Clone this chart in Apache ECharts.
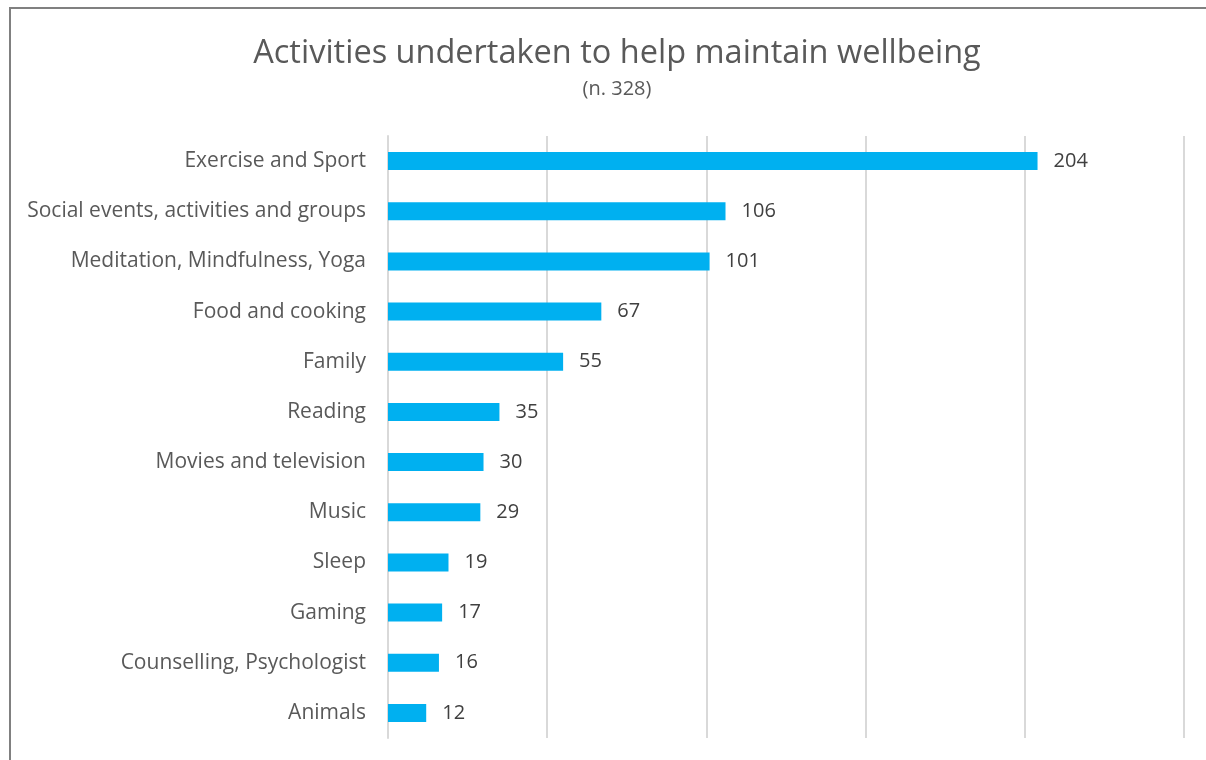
<!DOCTYPE html>
<html>
<head>
<meta charset="utf-8">
<script src="https://cdn.jsdelivr.net/npm/echarts@6/dist/echarts.min.js"></script>
<style>
  html, body { margin: 0; padding: 0; background: #fff; }
  #chart { width: 1206px; height: 760px; }
</style>
</head>
<body>
<div id="chart"></div>
<script>
const categories = [
  "Exercise and Sport",
  "Social events, activities and groups",
  "Meditation, Mindfulness, Yoga",
  "Food and cooking",
  "Family",
  "Reading",
  "Movies and television",
  "Music",
  "Sleep",
  "Gaming",
  "Counselling, Psychologist",
  "Animals",
];
const counts = [204, 106, 101, 67, 55, 35, 30, 29, 19, 17, 16, 12];

const FONT = "'Open Sans', sans-serif";
const chart = echarts.init(document.getElementById("chart"), null, { renderer: "canvas" });

chart.setOption({
  backgroundColor: "#fff",
  animation: false,
  title: {
    text: "Activities undertaken to help maintain wellbeing",
    subtext: "(n. 328)",
    left: 612,
    top: 32,
    textAlign: "center",
    itemGap: 9,
    textStyle: { color: "#595959", fontFamily: FONT, fontSize: 32.5, fontWeight: "normal" },
    subtextStyle: { color: "#595959", fontFamily: FONT, fontSize: 20 },
  },
  graphic: [
    {
      type: "rect",
      shape: { x: 10, y: 8, width: 1250, height: 800 },
      style: { fill: "none", stroke: "#808080", lineWidth: 2 },
      silent: true,
    },
  ],
  grid: { left: 388, right: 22, top: 136, bottom: 22 },
  xAxis: {
    type: "value",
    min: 0,
    max: 250,
    interval: 50,
    axisLabel: { show: false },
    axisLine: { show: false },
    axisTick: { show: false },
    splitLine: { lineStyle: { color: "#d9d9d9", width: 2 } },
  },
  yAxis: {
    type: "category",
    data: categories,
    inverse: true,
    axisLine: { show: true, lineStyle: { color: "#d9d9d9", width: 2 } },
    axisTick: { show: false },
    axisLabel: { color: "#595959", fontFamily: FONT, fontSize: 21, margin: 22 },
  },
  series: [
    {
      type: "bar",
      data: counts,
      barWidth: 18,
      itemStyle: { color: "#00B0F0" },
      label: {
        show: true,
        position: "right",
        distance: 16,
        color: "#404040",
        fontFamily: FONT,
        fontSize: 20,
      },
    },
  ],
});
</script>
</body>
</html>
